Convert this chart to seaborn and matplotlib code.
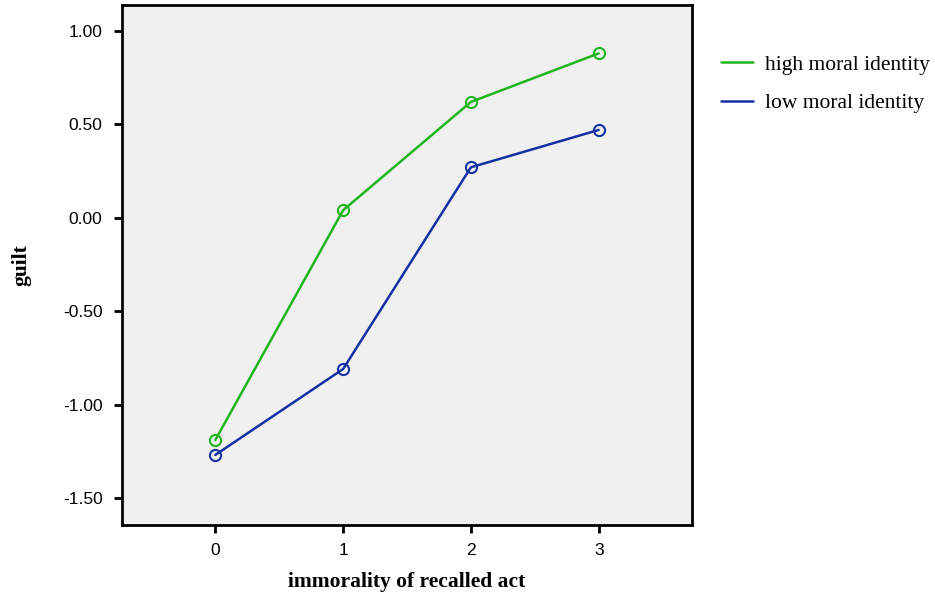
import seaborn as sns
import matplotlib.pyplot as plt
import pandas as pd

# immorality level of the recalled act
acts = [0, 1, 2, 3]
high_guilt = [-1.19, 0.04, 0.62, 0.88]
low_guilt = [-1.27, -0.81, 0.27, 0.47]
groups = ['high moral identity', 'low moral identity']
colors = ['#1fb51f', '#1530a3']

df = pd.DataFrame({
    'act': acts * 2,
    'guilt': high_guilt + low_guilt,
    'group': [groups[0]] * 4 + [groups[1]] * 4,
})

sns.set_style('white')
fig = plt.figure(figsize=(9.35, 5.93), dpi=100)
ax = fig.add_axes([0.1305, 0.1147, 0.6096, 0.8769])
ax.set_facecolor('#f0f0f0')

for g, c in zip(groups, colors):
    sns.lineplot(data=df[df['group'] == g], x='act', y='guilt', ax=ax,
                 color=c, marker='o', markersize=8, mfc='none',
                 markeredgecolor=c, markeredgewidth=1.5, linewidth=1.8,
                 label=g)

ax.set_xlim(-0.73, 3.73)
ax.set_ylim(-1.645, 1.139)
ax.set_xticks(acts)
ax.set_yticks([1.0, 0.5, 0.0, -0.5, -1.0, -1.5])
ax.set_yticklabels(['1.00', '0.50', '0.00', '-0.50', '-1.00', '-1.50'])
ax.tick_params(axis='both', direction='out', length=6, width=2, color='black',
               labelsize=12.5, labelcolor='black', left=True, bottom=True)
ax.tick_params(axis='y', pad=8)
ax.tick_params(axis='x', pad=7)
for lab in ax.get_xticklabels() + ax.get_yticklabels():
    lab.set_family('Liberation Sans')
for s in ax.spines.values():
    s.set_color('black')
    s.set_linewidth(2)

ax.set_xlabel('immorality of recalled act', family='Liberation Serif',
              fontweight='bold', fontsize=15.5, va='center', color='black')
ax.xaxis.set_label_coords(0.5, -0.11)
ax.set_ylabel('guilt', family='Liberation Serif', fontweight='bold',
              fontsize=15.5, va='center', color='black')
ax.yaxis.set_label_coords(-0.176, 0.5)

ax.get_legend().remove()
h, l = ax.get_legend_handles_labels()
leg = fig.legend(h, l, loc='upper left', bbox_to_anchor=(0.75, 0.94),
                 frameon=False, prop={'family': 'Liberation Serif', 'size': 15.5},
                 handlelength=1.5, handletextpad=0.55, labelspacing=0.85)
for line in leg.get_lines():
    line.set_marker('')
for t in leg.get_texts():
    t.set_color('black')

fig.savefig('out.png', dpi=100)
